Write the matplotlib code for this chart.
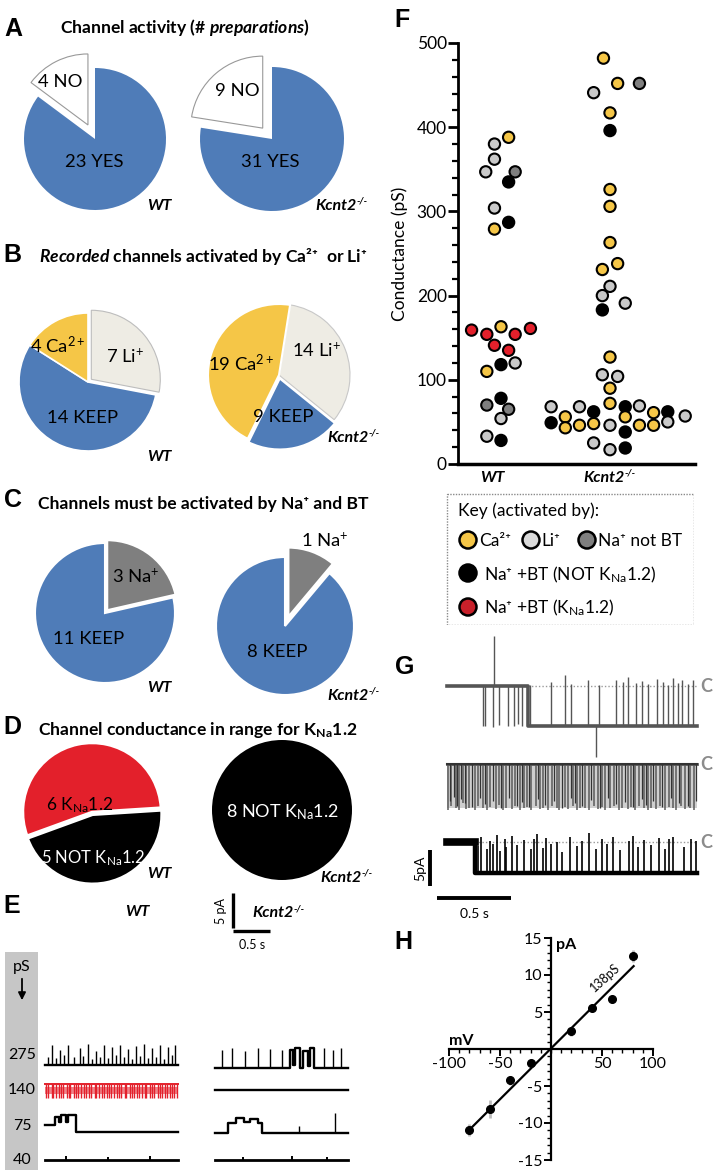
import matplotlib
matplotlib.use('Agg')
import matplotlib.pyplot as plt
import numpy as np
from matplotlib.patches import Rectangle, FancyArrowPatch
from matplotlib.ticker import MultipleLocator, FixedLocator

plt.rcParams['font.family'] = ['Lato', 'DejaVu Sans']
plt.rcParams['mathtext.fontset'] = 'custom'
plt.rcParams['mathtext.rm'] = 'Lato'
plt.rcParams['mathtext.it'] = 'Lato:italic:bold'
plt.rcParams['mathtext.bf'] = 'Lato:bold'
plt.rcParams['mathtext.default'] = 'regular'
plt.rcParams['axes.unicode_minus'] = False

BLUE = '#4f7cb8'
CA = '#f5c647'
LI_PIE = '#eeece4'
LI = '#c9c9c9'
NA = '#7f7f7f'
RED = '#e3202b'

# ---------- pie data ----------
a_wt = [23, 4]          # YES, NO
a_ko = [31, 9]
b_wt = [7, 14, 4]       # Li, KEEP, Ca
b_ko = [14, 9, 19]
c_wt = [3, 11]          # Na, KEEP
c_ko = [1, 8]
d_wt = [6, 5]           # KNa1.2, NOT KNa1.2
d_ko = [8]

# ---------- F scatter data (value pS, x offset, class) ----------
wt_val = [388, 380, 362, 347, 347, 335, 304, 287, 279, 159, 154, 163, 154, 161, 141, 135,
          118, 120, 110, 78, 70, 65, 54, 33, 28]
wt_dx = [0.07, -0.06, -0.06, -0.14, 0.13, 0.07, -0.06, 0.07, -0.06, -0.27, -0.13, 0, 0.13, 0.27,
         -0.06, 0.07, 0, 0.13, -0.13, 0, -0.13, 0.07, 0, -0.13, 0]
wt_cls = ['Ca', 'Li', 'Li', 'Li', 'Na', 'B', 'Li', 'B', 'Ca', 'R', 'R', 'Ca', 'R', 'R', 'R', 'R',
          'B', 'Li', 'Ca', 'B', 'Na', 'Na', 'Li', 'Li', 'B']
ko_val = [482, 441, 452, 452, 417, 396, 326, 306, 263, 231, 238, 211, 200, 191, 183, 127, 106, 104,
          90, 72, 68, 49, 56, 43, 68, 46, 62, 48, 25, 46, 17, 68, 56, 38, 19, 69, 46, 61, 46, 62, 50, 57]
ko_dx = [-0.06, -0.15, 0.07, 0.27, 0, 0, 0, 0, 0, -0.07, 0.07, 0, -0.07, 0.14, -0.07, 0, -0.07, 0.07,
         0, 0, -0.54, -0.54, -0.41, -0.41, -0.28, -0.28, -0.15, -0.15, -0.15, 0, 0, 0.14, 0.14, 0.14,
         0.14, 0.27, 0.27, 0.40, 0.40, 0.53, 0.53, 0.69]
ko_cls = ['Ca', 'Li', 'Ca', 'Na', 'Ca', 'B', 'Ca', 'Ca', 'Ca', 'Ca', 'Ca', 'Li', 'Li', 'Li', 'B', 'Ca',
          'Li', 'Li', 'Ca', 'Ca', 'Li', 'B', 'Ca', 'Ca', 'Li', 'Ca', 'B', 'Ca', 'Li', 'Li', 'Li', 'B',
          'Ca', 'B', 'B', 'Li', 'Ca', 'Ca', 'Ca', 'B', 'Li', 'Li']
cls_color = {'Ca': CA, 'Li': LI, 'Na': NA, 'B': 'black', 'R': RED}

# ---------- H: I-V data ----------
iv_v = [-80, -60, -40, -20, 20, 40, 60, 80]
iv_i = [-11.0, -8.1, -4.2, -1.9, 2.4, 5.6, 6.7, 12.6]
iv_err = [0.8, 1.2, 0.6, 0.5, 0.6, 0.5, 0.5, 0.8]
fit_v = [-77, 81]
fit_i = [-10.5, 11.2]

# ---------- E traces (s, pA): step levels + brief spikes ----------
e_wt275_spk = [0.05, 0.10, 0.16, 0.21, 0.27, 0.33, 0.42, 0.50, 0.55, 0.61, 0.67, 0.73, 0.79, 0.84,
               0.90, 0.96, 1.02, 1.07, 1.13, 1.19, 1.25, 1.30, 1.36, 1.41, 1.47, 1.53, 1.58, 1.64,
               1.70, 1.76, 1.81, 1.86]
e_wt275_amp = [1.2, 2.9, 1.0, 2.2, 1.4, 2.8, 1.1, 2.5, 1.3, 3.0, 0.9, 2.0, 1.2, 2.8, 1.0, 2.6,
               1.5, 2.9, 1.1, 2.3, 0.8, 2.7, 1.3, 3.0, 1.0, 2.4, 1.2, 2.8, 0.9, 2.6, 1.4, 2.9]
e_ko275_lvl_t = [0, 1.07, 1.12, 1.14, 1.22, 1.26, 1.33, 1.36, 1.42]
e_ko275_lvl = [0, 2.6, 0.4, 2.8, 0, 2.4, 0.3, 2.9, 0]
e_ko275_spk = [0.10, 0.24, 0.43, 0.61, 0.79, 0.96, 1.55, 1.68, 1.80]
e_ko275_amp = [2.6, 2.8, 2.4, 2.9, 2.7, 2.5, 2.8, 2.6, 2.9]
e_wt140_spk = [0.02, 0.05, 0.10, 0.12, 0.16, 0.20, 0.23, 0.26, 0.31, 0.34, 0.36, 0.41, 0.45, 0.47,
               0.52, 0.56, 0.58, 0.63, 0.66, 0.71, 0.73, 0.77, 0.82, 0.84, 0.88, 0.92, 0.95, 0.98,
               1.03, 1.06, 1.09, 1.14, 1.16, 1.21, 1.24, 1.27, 1.32, 1.35, 1.38, 1.43, 1.45, 1.50,
               1.53, 1.56, 1.61, 1.64, 1.67, 1.72, 1.74, 1.79, 1.82, 1.85, 1.88]
e_wt75_lvl_t = [0, 0.15, 0.20, 0.23, 0.30, 0.33, 0.45]
e_wt75_lvl = [1.0, 2.2, 1.4, 2.4, 1.5, 2.5, 0]
e_ko75_lvl_t = [0, 0.19, 0.30, 0.42, 0.50, 0.62, 0.67]
e_ko75_lvl = [0, 1.4, 2.1, 1.5, 2.0, 1.4, 0]
e_ko75_spk = [1.20, 1.72]
e_ko75_amp = [1.0, 2.8]
e_wt40_spk = [0.30, 0.90, 1.50]
e_wt40_amp = [0.6, 0.5, 0.6]
e_ko40_spk = [0.40, 1.10, 1.60]
e_ko40_amp = [0.5, 0.6, 0.5]

# ---------- G traces (s, pA) ----------
g1_lvl_t = [0, 0.55]
g1_lvl = [0, -5.5]
g1_spk = [0.24, 0.26, 0.31, 0.32, 0.35, 0.41, 0.45, 0.48, 0.51, 0.56, 0.70, 0.80, 0.84, 0.95, 1.01,
          1.03, 1.14, 1.19, 1.22, 1.28, 1.32, 1.36, 1.42, 1.46, 1.49, 1.53, 1.56, 1.59, 1.63, 1.66]
g1_peak = [-5.6, -5.5, -5.7, 6.9, -5.4, -5.6, -5.5, -5.3, -5.6, 0.2, 0.6, 1.5, 0.3, 0.8, -9.8,
           0.2, 0.9, 0.5, 1.2, 0.4, 0.7, 0.3, 1.0, 0.6, 0.2, 1.1, 0.4, 0.9, 0.3, 0.8]
g2_spk = [0.01, 0.03, 0.06, 0.08, 0.11, 0.13, 0.15, 0.19, 0.21, 0.24, 0.27, 0.29, 0.33, 0.35, 0.38,
          0.40, 0.44, 0.46, 0.49, 0.52, 0.54, 0.57, 0.60, 0.63, 0.65, 0.68, 0.71, 0.74, 0.76, 0.80,
          0.82, 0.85, 0.88, 0.90, 0.93, 0.96, 0.99, 1.02, 1.05, 1.07, 1.10, 1.13, 1.16, 1.18, 1.22,
          1.24, 1.27, 1.30, 1.33, 1.36, 1.38, 1.41, 1.44, 1.47, 1.50, 1.53, 1.55, 1.58, 1.61, 1.64, 1.67]
g2_peak = [-6.4, -5.8, -6.2, -6.4, -5.5, -6.3, -6.1, -6.4, -5.9, -6.2, -6.4, -6.0, -6.3, -5.7, -6.4,
           -6.1, -6.3, -5.9, -6.4, -6.2, -6.0, -6.4, -5.8, -6.3, -6.1, -6.4, -5.9, -6.2, -6.4, -6.0,
           -6.3, -5.8, -6.4, -6.1, -6.2, -6.4, -5.9, -6.3, -6.0, -6.4, -6.2, -5.8, -6.4, -6.1, -6.3,
           -6.0, -6.4, -5.9, -6.2, -6.4, -6.1, -6.3, -5.8, -6.4, -6.0, -6.2, -6.4, -5.9, -6.3, -6.1, -6.4]
g2b_spk = [0.02, 0.045, 0.07, 0.095, 0.12, 0.17, 0.225, 0.255, 0.31, 0.365, 0.42, 0.475, 0.505,
           0.555, 0.615, 0.665, 0.725, 0.78, 0.835, 0.865, 0.915, 0.975, 1.035, 1.085, 1.145,
           1.2, 1.255, 1.315, 1.345, 1.395, 1.455, 1.515, 1.565, 1.625, 1.68]
g2b_peak = [-5.2, -4.6, -5.9, -4.9, -5.5, -6.0, -4.8, -5.6, -5.1, -6.1, -4.7, -5.8, -5.3, -6.0,
            -4.9, -5.7, -5.2, -6.1, -4.8, -5.5, -5.9, -5.0, -6.1, -4.7, -5.6, -5.3, -6.0, -4.9,
            -5.7, -5.1, -6.0, -4.8, -5.5, -5.9, -5.2]
g3_lvl_t = [0, 0.19]
g3_lvl = [0, -4.2]
g3_spk = [0.21, 0.23, 0.27, 0.29, 0.31, 0.34, 0.36, 0.39, 0.40, 0.44, 0.47, 0.52, 0.57, 0.59, 0.61,
          0.65, 0.67, 0.70, 0.74, 0.78, 0.83, 0.88, 0.91, 0.96, 1.01, 1.05, 1.08, 1.12, 1.17, 1.23,
          1.26, 1.29, 1.33, 1.38, 1.43, 1.47, 1.50, 1.53, 1.60, 1.65, 1.68]
g3_peak = [-0.5, 0.8, -1.0, 0.2, -0.3, 1.0, -1.2, 0.5, -0.6, 0.9, -0.4, 0.3, -1.0, 0.4, 1.2,
           -0.8, 0.6, -0.2, 0.1, -1.3, 0.7, -0.5, 0.2, 1.3, -0.9, 0.4, -0.3, 0.8, -1.1, 0.2,
           0.9, -0.7, 0.3, -0.4, 0.6, -1.0, 0.4, 0.8, -0.6, 0.5, 0.2]

W, H = 714, 1170
fig = plt.figure(figsize=(W / 100, H / 100), dpi=100)
rend = fig.canvas.get_renderer()


def axpx(x0, y0, x1, y1):
    return fig.add_axes([x0 / W, 1 - y1 / H, (x1 - x0) / W, (y1 - y0) / H])


def txt(x, y, s, **kw):
    kw.setdefault('ha', 'center')
    kw.setdefault('va', 'center')
    return fig.text(x / W, 1 - y / H, s, **kw)


def letter(x, y, s):
    txt(x, y, s, family='Liberation Sans', weight='bold', fontsize=18)


def geno(x, y, s, sup='', size=11.5):
    t = txt(x, y, s, ha='left', va='baseline', weight='bold', style='italic', fontsize=size)
    if sup:
        bb = t.get_window_extent(rend)
        txt(x + bb.width + 0.5, y - 6, sup, ha='left', va='baseline', weight='bold',
            style='italic', fontsize=size * 0.62)


def pie(cx, cy, r, vals, colors, start, explode, edge='white', lw=1.5):
    ax = axpx(cx - 100, cy - 100, cx + 100, cy + 100)
    wedges, _ = ax.pie(vals, colors=colors, startangle=start, counterclock=False,
                       explode=explode, radius=r / 71.43,
                       wedgeprops=dict(edgecolor=edge, linewidth=lw))
    ax.set_xlim(-1.4, 1.4)
    ax.set_ylim(-1.4, 1.4)
    ax.axis('off')
    return wedges


KNA = 'K$_{Na}$1.2'
TITLE = dict(ha='left', va='baseline', weight='bold', fontsize=12.6)
PL = dict(fontsize=13.3)

# ---------- A ----------
letter(13, 29, 'A')
txt(60, 33, r'Channel activity (# $\it{preparations}$)', **TITLE)
w = pie(95, 139, 71, a_wt, [BLUE, 'white'], 90, [0, 0.22], lw=0)
w[1].set_edgecolor('#999999'); w[1].set_linewidth(0.8)
w = pie(272, 139, 72, a_ko, [BLUE, 'white'], 90, [0, 0.2], lw=0)
w[1].set_edgecolor('#999999'); w[1].set_linewidth(0.8)
txt(60, 82, '4 NO', **PL)
txt(237, 91, '9 NO', **PL)
txt(94, 162, '23 YES', **PL)
txt(270, 162, '31 YES', **PL)
geno(147, 210, 'WT')
geno(315, 210, 'Kcnt2', '-/-')

# ---------- B ----------
letter(12, 255, 'B')
txt(39, 262, r'$\it{Recorded}$ channels activated by Ca²⁺  or Li⁺', **TITLE)
w = pie(88, 382, 69, b_wt, [LI_PIE, BLUE, CA], 90, [0.06, 0, 0], lw=1.2)
w[0].set_edgecolor('#bdbdbd'); w[0].set_linewidth(0.8)
w = pie(279, 375, 71, b_ko, [LI_PIE, BLUE, CA], 81, [0, 0.05, 0], lw=1.5)
w[0].set_edgecolor('#c8c8c8'); w[0].set_linewidth(0.8)
txt(58, 345, '4 Ca$^{2+}$', **PL)
txt(125, 356, '7 Li$^{+}$', **PL)
txt(83, 418, '14 KEEP', **PL)
txt(241, 364, '19 Ca$^{2+}$', **PL)
txt(317, 350, '14 Li$^{+}$', **PL)
txt(283, 417, '9 KEEP', **PL)
geno(147, 461, 'WT')
geno(327, 442, 'Kcnt2', '-/-')

# ---------- C ----------
letter(13, 500, 'C')
txt(38, 509, 'Channels must be activated by Na⁺ and BT', **TITLE)
pie(105, 613, 70, c_wt, [NA, BLUE], 90, [0.05, 0], lw=1.5)
pie(285, 626, 69, c_ko, [NA, BLUE], 90, [0.14, 0], lw=1.5)
txt(136, 576, '3 Na$^{+}$', **PL)
txt(325, 540, '1 Na$^{+}$', **PL)
txt(89, 639, '11 KEEP', **PL)
txt(277, 652, '8 KEEP', **PL)
geno(147, 692, 'WT')
geno(327, 700, 'Kcnt2', '-/-')

# ---------- D ----------
letter(12, 727, 'D')
txt(38, 735, 'Channel conductance in range for ' + KNA, **TITLE)
pie(92, 812, 69, d_wt, [RED, 'black'], 200, [0, 0.04], lw=1.8)
pie(282, 810, 70, d_ko, ['black'], 90, [0], lw=0)
txt(80, 805, '6 ' + KNA, fontsize=12.5)
txt(93, 858, '5 NOT ' + KNA, color='white', fontsize=12)
txt(282, 812, '8 NOT ' + KNA, color='white', fontsize=13)
geno(147, 878, 'WT')
geno(320, 882, 'Kcnt2', '-/-')

# ---------- E ----------
letter(12, 906, 'E')
txt(137, 912, 'WT', weight='bold', style='italic', fontsize=11.5)
geno(252, 917, 'Kcnt2', '-/-')
fig.add_artist(Rectangle((5 / W, 1 - 1170 / H), 33 / W, 218 / H, transform=fig.transFigure,
                         facecolor='#c6c6c6', edgecolor='none'))
txt(22, 967, 'pS', fontsize=11.5)
fig.add_artist(FancyArrowPatch((22 / W, 1 - 976 / H), (22 / W, 1 - 1003 / H), transform=fig.transFigure,
                               arrowstyle='-|>', mutation_scale=11, color='black', lw=1.3))
for lab, yy in zip(['275', '140', '75', '40'], [1055, 1090, 1126, 1160]):
    txt(22, yy, lab, fontsize=11.5)


def trace(ax, t0, dur, base, lvl_t=None, lvl=None, spk=None, peak=None, amp=None, color='black',
          lw=1.3, slw=None):
    if lvl_t is None:
        lvl_t, lvl = [0], [0]
    tt = list(lvl_t) + [dur]
    yy = list(lvl) + [lvl[-1]]
    ax.plot(np.array(tt) + t0, np.array(yy) + base, drawstyle='steps-post', color=color, lw=lw)
    if spk is not None:
        spk = np.array(spk)
        b = np.array(lvl)[np.searchsorted(lvl_t, spk, side='right') - 1]
        top = np.array(peak) if peak is not None else b + np.array(amp)
        ax.vlines(spk + t0, b + base, top + base, color=color, lw=slw or lw * 0.7)


axe = axpx(40, 880, 355, 1170)
axe.set_xlim(0, 4.5)
axe.set_ylim(0, 41.43)
axe.axis('off')
TW, TK = 0.071, 2.5
trace(axe, TW, 1.9, 15.0, spk=e_wt275_spk, amp=e_wt275_amp, lw=1.7, slw=1.0)
trace(axe, TK, 1.9, 14.6, e_ko275_lvl_t, e_ko275_lvl, spk=e_ko275_spk, amp=e_ko275_amp, lw=1.7, slw=1.0)
trace(axe, TW, 1.9, 12.3, spk=e_wt140_spk, amp=[-2.0] * len(e_wt140_spk), color=RED, lw=1.4)
axe.fill_between([TW, TW + 1.9], 10.9, 11.8, color=RED, lw=0, alpha=0.55)
trace(axe, TK, 1.9, 11.4, lw=1.7)
trace(axe, TW, 1.9, 5.4, e_wt75_lvl_t, e_wt75_lvl, lw=1.7)
trace(axe, TK, 1.9, 5.3, e_ko75_lvl_t, e_ko75_lvl, spk=e_ko75_spk, amp=e_ko75_amp, lw=1.7, slw=1.0)
trace(axe, TW, 1.9, 1.4, spk=e_wt40_spk, amp=e_wt40_amp, lw=2.0)
trace(axe, TK, 1.9, 1.4, spk=e_ko40_spk, amp=e_ko40_amp, lw=2.0)
axe.plot([2.757, 2.757], [34.6, 39.6], color='black', lw=2.4, solid_capstyle='butt')
axe.plot([2.757, 3.286], [34.2, 34.2], color='black', lw=2.4, solid_capstyle='butt')
txt(221, 911, '5 pA', rotation=90, fontsize=9)
txt(252, 945, '0.5 s', fontsize=9)

# ---------- F ----------
letter(402, 20, 'F')
axf = axpx(458, 43, 695, 464)
for val, dx, cls, c0 in [(wt_val, wt_dx, wt_cls, 1), (ko_val, ko_dx, ko_cls, 2)]:
    axf.scatter(c0 + np.array(dx), val, s=66, c=[cls_color[k] for k in cls],
                edgecolors='black', linewidths=1.5, clip_on=False, zorder=3)
axf.set_xlim(1 - 43 / 109, 2 + 85 / 109)
axf.set_ylim(0, 500)
axf.spines['top'].set_visible(False)
axf.spines['right'].set_visible(False)
axf.spines['left'].set_linewidth(2)
axf.spines['bottom'].set_linewidth(2.5)
axf.set_xticks([])
axf.yaxis.set_major_locator(MultipleLocator(100))
axf.yaxis.set_minor_locator(MultipleLocator(20))
axf.tick_params(axis='y', which='major', length=7, width=2, labelsize=12.5, pad=1)
axf.tick_params(axis='y', which='minor', length=4, width=1.6)
axf.set_ylabel('Conductance (pS)', fontsize=12.5, labelpad=6)
axf.patch.set_alpha(0)
txt(492, 482, 'WT', va='baseline', weight='bold', style='italic', fontsize=11.5)
geno(583, 482, 'Kcnt2', '-/-')

# key
axk = axpx(446, 493, 694, 625)
axk.set_xlim(446, 694)
axk.set_ylim(625, 493)
axk.axis('off')
axk.add_patch(Rectangle((446.5, 493.5), 247, 131, fill=False, ls=(0, (1, 1)), lw=1, edgecolor='#8a8a8a'))
axk.scatter([468, 531, 587, 468, 468], [540, 540, 540, 573, 607], s=150,
            c=[CA, '#d9d9d9', NA, 'black', '#c8202a'], edgecolors='black', linewidths=1.8, clip_on=False)
KEY = dict(ha='left', va='baseline', fontsize=12.5)
txt(458, 516, 'Key (activated by):', **KEY)
txt(479, 546, 'Ca²⁺', **KEY)
txt(541, 546, 'Li⁺', **KEY)
txt(598, 546, 'Na⁺ not BT', **KEY)
txt(484, 580, 'Na⁺ +BT (NOT ' + KNA + ')', **KEY)
txt(484, 613, 'Na⁺ +BT (' + KNA + ')', **KEY)

# ---------- G ----------
letter(405, 667, 'G')
axg = axpx(410, 630, 714, 915)
axg.set_xlim(-37 / 148, 267 / 148)
axg.set_ylim(0, 285 / 7.2)
axg.axis('off')
GD = 1.69
for base, t_dot in [(31.8, 0.55), (21.0, 0.0), (10.1, 0.19)]:
    axg.plot([t_dot, GD], [base, base], color='#9a9a9a', lw=1, ls=(0, (1, 1.5)))
trace(axg, 0, GD, 31.8, g1_lvl_t, g1_lvl, spk=g1_spk, peak=g1_peak, color='#555555', lw=2.6, slw=1.0)
axg.fill_between([0, GD], 21.0 - 6.2, 21.0 - 0.2, color='#b0b0b0', lw=0, alpha=0.6)
trace(axg, 0, GD, 21.0, spk=g2_spk, peak=g2_peak, color='#5a5a5a', lw=2.0, slw=1.1)
trace(axg, 0, GD, 21.0, spk=g2b_spk, peak=g2b_peak, color='#333333', lw=1.5, slw=0.9)
trace(axg, 0, GD, 10.1, g3_lvl_t, g3_lvl, spk=g3_spk, peak=g3_peak, color='black', lw=3.2, slw=1.2)
axg.plot([0, 0.19], [10.1, 10.1], color='black', lw=5.5)
axg.plot([-0.115, -0.115], [4.0, 9.0], color='black', lw=2.8, solid_capstyle='butt')
axg.plot([-0.068, 0.432], [2.3, 2.3], color='black', lw=2.8, solid_capstyle='butt')
for yy in [686, 764, 842]:
    txt(706, yy, 'C', color='#8c8c8c', fontsize=13, weight='bold')
txt(420, 868, '5pA', rotation=90, fontsize=10)
txt(474, 914, '0.5 s', fontsize=10)

# ---------- H ----------
letter(403, 942, 'H')
axh = axpx(449, 938, 653, 1160)
axh.errorbar(iv_v, iv_i, yerr=iv_err, fmt='o', color='black', ms=5.5, ecolor='#bdbdbd',
             elinewidth=2, capsize=0, zorder=3, clip_on=False)
axh.plot(fit_v, fit_i, color='black', lw=1.6)
axh.set_xlim(-100, 100)
axh.set_ylim(-15, 15)
for s in ['top', 'right']:
    axh.spines[s].set_visible(False)
axh.spines['left'].set_position('zero')
axh.spines['bottom'].set_position('zero')
axh.spines['left'].set_linewidth(1.6)
axh.spines['bottom'].set_linewidth(1.6)
axh.xaxis.set_major_locator(FixedLocator([-100, -50, 50, 100]))
axh.xaxis.set_minor_locator(MultipleLocator(10))
axh.yaxis.set_major_locator(FixedLocator([-15, -10, -5, 5, 10, 15]))
axh.yaxis.set_minor_locator(MultipleLocator(1))
axh.tick_params(which='major', length=5, width=1.4, labelsize=11.5, pad=1)
axh.tick_params(which='minor', length=3, width=1)
axh.patch.set_alpha(0)
axh.text(53, 9.6, '138pS', rotation=42, fontsize=9, ha='center', va='center')
txt(556, 945, 'pA', ha='left', weight='bold', fontsize=11.5)
txt(461, 1041, 'mV', weight='bold', fontsize=11.5)

fig.savefig('out.png', dpi=100)
